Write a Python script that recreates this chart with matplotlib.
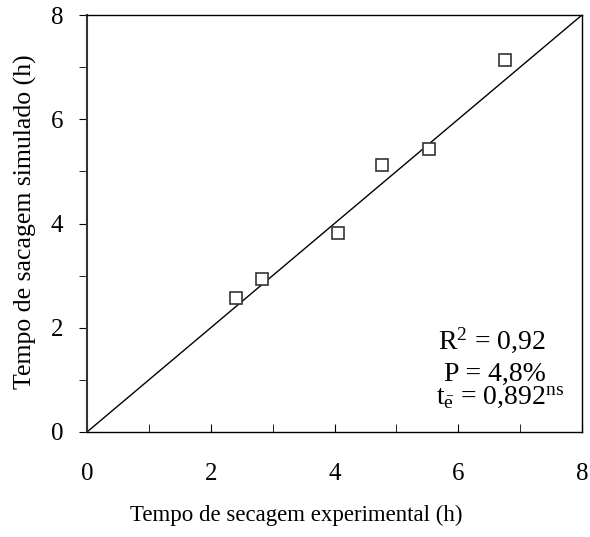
import matplotlib
matplotlib.use("Agg")
import matplotlib.pyplot as plt
import numpy as np
from matplotlib.ticker import MultipleLocator

plt.rcParams['font.family'] = ['Liberation Serif', 'DejaVu Serif']
plt.rcParams['mathtext.fontset'] = 'custom'
plt.rcParams['mathtext.rm'] = 'Liberation Serif'
plt.rcParams['mathtext.it'] = 'Liberation Serif:italic'

# experimental vs simulated drying time (h)
t_experimental = [2.40, 2.83, 4.06, 4.76, 5.52, 6.75]
t_simulado = [2.58, 2.93, 3.82, 5.13, 5.42, 7.14]
linha_1_1 = [0, 8]

fig = plt.figure(figsize=(5.9, 5.37), dpi=100)
ax = fig.add_axes([87 / 590, 1 - 432 / 537, 495 / 590, 417 / 537])

ax.plot(linha_1_1, linha_1_1, color='black', lw=1.0)
ax.plot(t_experimental, t_simulado, 's', ms=9, mfc='white', mec='#333333', mew=1.2)

ax.set_xlim(0, 8)
ax.set_ylim(0, 8)
ax.xaxis.set_major_locator(MultipleLocator(2))
ax.xaxis.set_minor_locator(MultipleLocator(1))
ax.yaxis.set_major_locator(MultipleLocator(2))
ax.yaxis.set_minor_locator(MultipleLocator(1))
ax.tick_params(axis='x', which='both', direction='in', length=6, labelsize=18, pad=22)
ax.tick_params(axis='y', which='both', direction='out', length=6, labelsize=18, pad=11)
for s in ax.spines.values():
    s.set_linewidth(1.0)
ax.spines['left'].set_linewidth(1.5)
ax.spines['left'].set_color('#333333')

# axis titles
fig.text(296 / 590, 1 - 515 / 537, 'Tempo de secagem experimental (h)',
         fontsize=16.5, ha='center', va='center')
fig.text(25 / 590, 1 - 222 / 537, 'Tempo de sacagem simulado (h)',
         fontsize=18.5, ha='center', va='center', rotation=90)

# fit statistics
ax.text(6.55, 1.61, r'R$^2$ = 0,92', fontsize=20, ha='center', va='baseline')
ax.text(6.60, 0.98, 'P = 4,8%', fontsize=20, ha='center', va='baseline')
ax.text(6.67, 0.54, r'$\mathrm{t}_{\bar{\mathrm{e}}}$ = 0,892$^{\mathrm{ns}}$',
        fontsize=20, ha='center', va='baseline')

fig.savefig('out.png', dpi=100)
